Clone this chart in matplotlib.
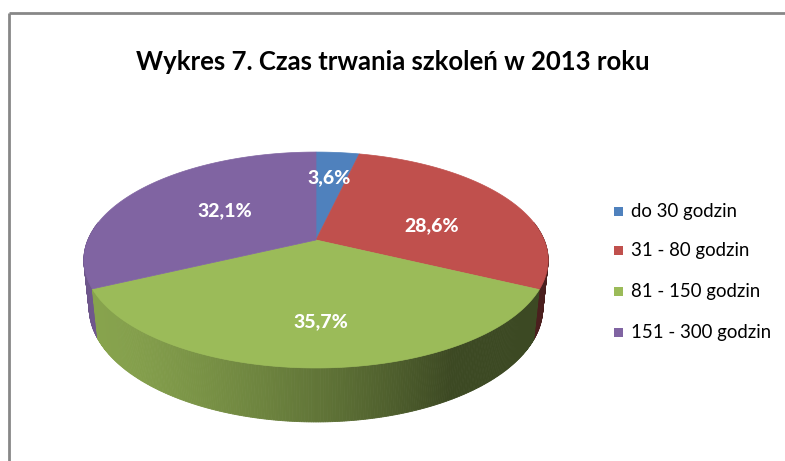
import numpy as np
import matplotlib
matplotlib.use("Agg")
import matplotlib.pyplot as plt
from matplotlib.patches import Polygon, Rectangle
from matplotlib.colors import to_rgb

# --- data -------------------------------------------------------------
categories = ["do 30 godzin", "31 - 80 godzin", "81 - 150 godzin", "151 - 300 godzin"]
shares = [3.6, 28.6, 35.7, 32.1]
value_labels = ["3,6%", "28,6%", "35,7%", "32,1%"]
title = "Wykres 7. Czas trwania szkoleń w 2013 roku"

colors = ["#4F81BD", "#C0504D", "#9BBB59", "#8064A2"]

# --- perspective camera for the 3-D pie --------------------------------
W, H = 785, 461
CX, CY = 316.0, 240.0          # screen position of the pie centre
ELEV = np.arcsin(0.457)        # camera elevation
S, C = np.sin(ELEV), np.cos(ELEV)
DIST = 4.80                    # camera distance (in pie radii)
K = 1095.0                     # focal scale in pixels
DEPTH = 0.237                  # thickness of the pie


def project(x, y, z):
    vx = x
    vy = y + DIST * C
    vz = z - DIST * S
    depth = vy * C - vz * S
    up = vy * S + vz * C
    return CX + K * vx / depth, CY - K * up / depth


def shade(theta_deg):
    # light falls from the front-left onto the rim
    a = np.deg2rad(theta_deg - (-150.0))
    return 0.39 + 0.48 * max(0.0, np.cos(a))


fig = plt.figure(figsize=(W / 100, H / 100), dpi=100)
ax = fig.add_axes([0, 0, 1, 1])
ax.set_xlim(0, W)
ax.set_ylim(H, 0)
ax.axis("off")

# outer frame of the chart area
frame_col = "#878787"
ax.plot([8.5, W + 5], [13.5, 13.5], color=frame_col, lw=2.0, solid_capstyle="butt")
ax.plot([8.5, 8.5], [13.5, H + 5], color=frame_col, lw=2.0, solid_capstyle="butt")

# slice angle ranges: start at 12 o'clock, run clockwise
total = float(sum(shares))
bounds = [90.0]
for v in shares:
    bounds.append(bounds[-1] - 360.0 * v / total)


def slice_index(theta):
    t = theta
    while t > 90.0:
        t -= 360.0
    while t <= -270.0:
        t += 360.0
    for i in range(len(shares)):
        if bounds[i + 1] <= t <= bounds[i]:
            return i
    return len(shares) - 1


# --- rim (side wall) ------------------------------------------------------
step = 0.5
thetas = np.arange(-190.0, 10.0 + step, step)
# paint from the back edges towards the front so nearer strips sit on top
order = sorted(range(len(thetas) - 1), key=lambda j: -abs((thetas[j] + step / 2) + 90.0))
for j in order:
    t0, t1 = thetas[j], thetas[j + 1]
    tm = 0.5 * (t0 + t1)
    idx = slice_index(tm)
    base = np.array(to_rgb(colors[idx]))
    col = np.clip(base * shade(tm), 0, 1)
    pts = []
    for t in (t0, t1):
        r = np.deg2rad(t)
        pts.append(project(np.cos(r), np.sin(r), 0.0))
    for t in (t1, t0):
        r = np.deg2rad(t)
        pts.append(project(np.cos(r), np.sin(r), -DEPTH))
    ax.add_patch(Polygon(pts, closed=True, facecolor=col, edgecolor=col, lw=0.6))

# --- top face -------------------------------------------------------------
for i in range(len(shares)):
    a0, a1 = bounds[i], bounds[i + 1]
    ang = np.linspace(a0, a1, 200)
    pts = [project(0.0, 0.0, 0.0)]
    for t in ang:
        r = np.deg2rad(t)
        pts.append(project(np.cos(r), np.sin(r), 0.0))
    ax.add_patch(Polygon(pts, closed=True, facecolor=colors[i], edgecolor=colors[i], lw=0.5))

# --- value labels ---------------------------------------------------------
label_pos = [(329, 178), (432, 226), (321, 322), (225, 211)]
for (lx, ly), txt in zip(label_pos, value_labels):
    ax.text(lx, ly, txt, color="white", fontsize=14, fontweight="black",
            family="Lato", ha="center", va="center")

# --- title ------------------------------------------------------------------
ax.text(393, 62, title, fontsize=18.5, fontweight="bold", family="Lato",
        ha="center", va="center", color="black")

# --- legend -----------------------------------------------------------------
leg_y = [211, 250, 291, 332]
for ly, name, col in zip(leg_y, categories, colors):
    ax.add_patch(Rectangle((614, ly - 4.5), 9, 9, facecolor=col, edgecolor="none"))
    ax.text(631, ly, name, fontsize=13.4, family="Lato", ha="left", va="center", color="black")

fig.savefig("out.png", dpi=100)
